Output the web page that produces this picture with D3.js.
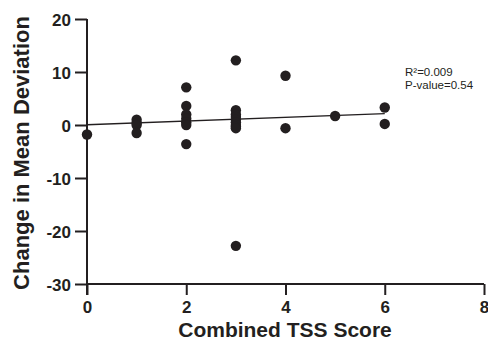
<!DOCTYPE html>
<html><head><meta charset="utf-8">
<script src="https://cdn.jsdelivr.net/npm/d3@7"></script>
<style>body{margin:0;background:#fff}svg{display:block}</style>
</head><body>
<svg id="c" width="488" height="340"></svg>
<script>
const tssScores = [0, 1,1,1,1, 2,2,2,2,2,2,2, 3,3,3,3,3,3,3,3,3,3, 4,4, 5, 6,6];
const mdChange  = [-1.8, 1.0,0.4,0,-1.5, 7.1,3.6,2.0,1.2,0.5,0,-3.6, 12.2,2.8,2.0,1.5,1.0,0.5,0,-0.3,-0.6,-22.8, 9.3,-0.6, 1.7, 3.3,0.2];
const regLine = [[0, 0.05], [6, 2.15]];
const xTicks = [0, 2, 4, 6, 8];
const yTicks = [-30, -20, -10, 0, 10, 20];
const statLines = ["R\u00B2=0.009", "P-value=0.54"];

const ink = "#231f20";
const font = "'Liberation Sans', Arial, sans-serif";
const svg = d3.select("#c");
const x = d3.scaleLinear().domain([0, 8]).range([87, 484]);
const y = d3.scaleLinear().domain([-30, 20]).range([284, 19]);
const fmt = d => String(d);

const xa = svg.append("g").attr("transform", "translate(0,284)")
  .call(d3.axisBottom(x).tickValues(xTicks).tickSize(11).tickPadding(6).tickFormat(fmt));
const ya = svg.append("g").attr("transform", "translate(87,0)")
  .call(d3.axisLeft(y).tickValues(yTicks).tickSize(12).tickPadding(4).tickFormat(fmt));
[xa, ya].forEach(g => {
  g.select(".domain").attr("stroke", ink).attr("stroke-width", 2);
  g.selectAll(".tick line").attr("stroke", ink).attr("stroke-width", 2);
  g.selectAll(".tick text").attr("fill", ink)
    .style("font-family", font)
    .style("font-weight", "bold").style("font-size", "17px");
});
xa.select(".domain").attr("d", "M87,0H484");
ya.select(".domain").attr("d", "M0,19V295");
ya.selectAll(".tick text").attr("dy", "0.36em");

svg.append("line")
  .attr("x1", x(regLine[0][0])).attr("y1", y(regLine[0][1]))
  .attr("x2", x(regLine[1][0])).attr("y2", y(regLine[1][1]))
  .attr("stroke", ink).attr("stroke-width", 1.3);

svg.append("g").selectAll("circle").data(tssScores).join("circle")
  .attr("cx", d => x(d)).attr("cy", (d, i) => y(mdChange[i])).attr("r", 5.2)
  .attr("fill", ink);

svg.append("g").selectAll("text").data(statLines).join("text")
  .attr("x", 405).attr("y", (d, i) => 76 + i * 13)
  .style("font-family", font).style("font-size", "11.5px").attr("fill", ink)
  .text(d => d);

svg.append("text").attr("x", 285).attr("y", 337).attr("text-anchor", "middle")
  .style("font-family", font).style("font-weight", "bold").style("font-size", "21px")
  .attr("fill", ink).text("Combined TSS Score");
svg.append("text").attr("transform", "translate(29,153) rotate(-90)").attr("text-anchor", "middle")
  .style("font-family", font).style("font-weight", "bold").style("font-size", "22px")
  .attr("fill", ink).text("Change in Mean Deviation");
</script>
</body></html>
